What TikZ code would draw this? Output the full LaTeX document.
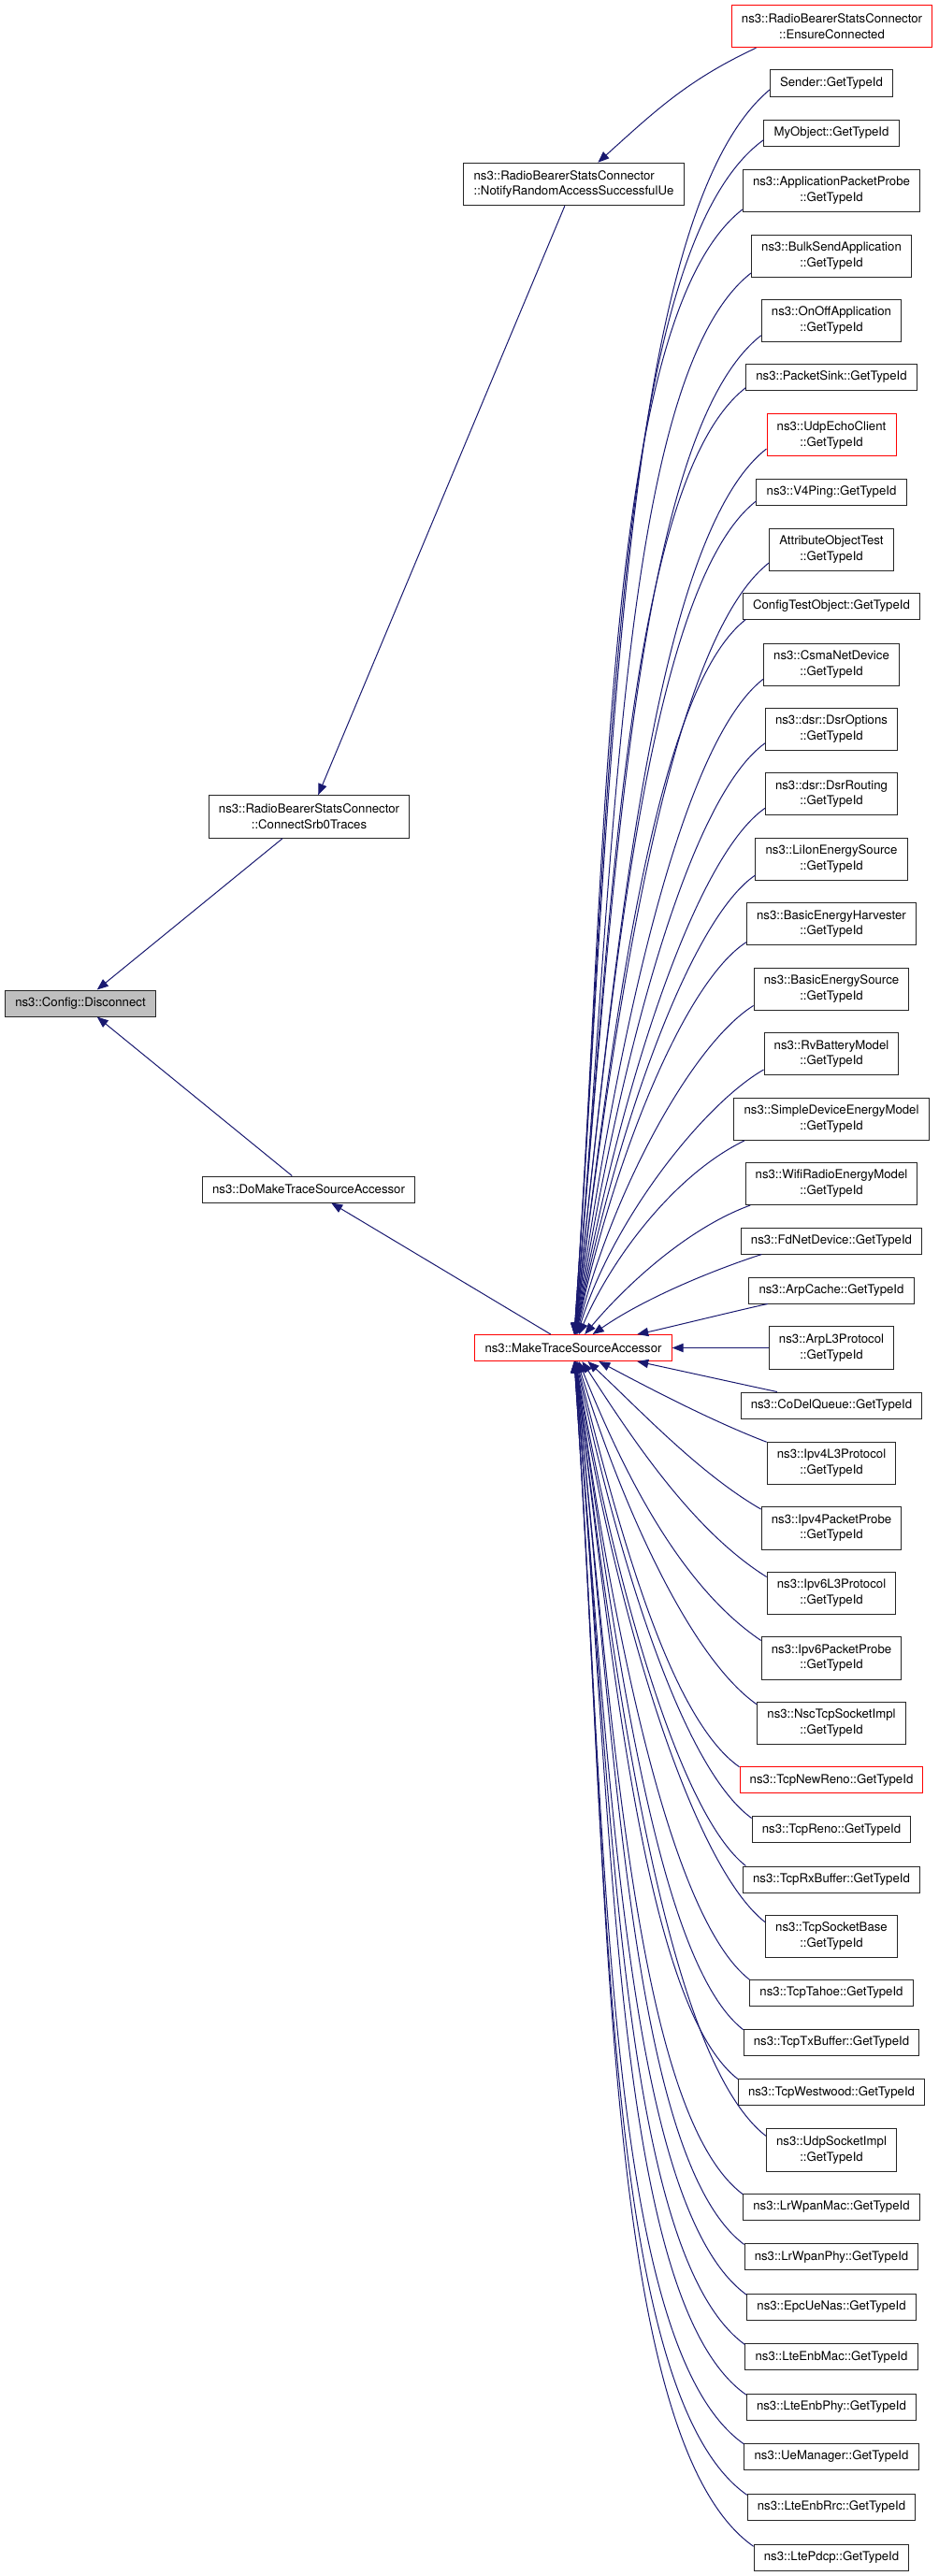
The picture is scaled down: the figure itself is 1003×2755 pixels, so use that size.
\documentclass[tikz,border=0pt]{standalone}
\usepackage{fontspec}
\setmainfont{TeX Gyre Heros}
\usepackage{tikz}
\usetikzlibrary{arrows.meta}
\usepackage{xcolor}
\definecolor{midnight}{RGB}{25,25,112}
\definecolor{grey75}{RGB}{191,191,191}
\tikzset{%
    fn/.style={draw=black!85, fill=white, line width=0.75pt, inner xsep=8pt, inner ysep=1pt,
        minimum height=21pt, align=center, font=\fontsize{9.9pt}{12.5pt}\selectfont},
    fn2/.style={fn, minimum height=34.1pt},
    hot/.style={draw=red},
    call/.style={draw=midnight, line width=0.75pt, ->, >={Triangle[length=9pt,width=7pt]}}
}
\begin{document}
\begin{tikzpicture}[x=0.75pt,y=0.75pt]
\useasboundingbox (0,0) rectangle (1003,-2755);
%-----------------------------------------------
    \node[fn, fill=grey75] (disc) at (86,-1073) {ns3::Config::Disconnect};
    \node[fn2] (srb0) at (330.5,-873.5) {ns3::RadioBearerStatsConnector\\::ConnectSrb0Traces};
    \node[fn2, align=left] (notify) at (613.5,-197) {ns3::RadioBearerStatsConnector\\::NotifyRandomAccessSuccessfulUe};
    \node[fn] (domake) at (330,-1272) {ns3::DoMakeTraceSourceAccessor};
    \node[fn, hot] (mtsa) at (613,-1441.5) {ns3::MakeTraceSourceAccessor};
%-----------------------------------------------
    \node[fn2, hot] (ensure) at (889.5,-28) {ns3::RadioBearerStatsConnector\\::EnsureConnected};
    \node[fn] (sender) at (889,-89) {Sender::GetTypeId};
    \node[fn] (myobj) at (889,-142) {MyObject::GetTypeId};
    \node[fn2] (appprobe) at (889,-203.75) {ns3::ApplicationPacketProbe\\::GetTypeId};
    \node[fn2] (bulksend) at (889,-273.75) {ns3::BulkSendApplication\\::GetTypeId};
    \node[fn2] (onoff) at (889,-342.75) {ns3::OnOffApplication\\::GetTypeId};
    \node[fn] (pktsink) at (889,-403.5) {ns3::PacketSink::GetTypeId};
    \node[fn2, hot] (udpecho) at (889,-465.25) {ns3::UdpEchoClient\\::GetTypeId};
    \node[fn] (vping) at (889,-526) {ns3::V4Ping::GetTypeId};
    \node[fn2] (attrtest) at (889,-587.75) {AttributeObjectTest\\::GetTypeId};
    \node[fn] (cfgtest) at (889,-648) {ConfigTestObject::GetTypeId};
    \node[fn2] (csma) at (889,-710.75) {ns3::CsmaNetDevice\\::GetTypeId};
    \node[fn2] (dsropt) at (889,-779.75) {ns3::dsr::DsrOptions\\::GetTypeId};
    \node[fn2] (dsrrout) at (889,-849.25) {ns3::dsr::DsrRouting\\::GetTypeId};
    \node[fn2] (liion) at (889,-918.75) {ns3::LiIonEnergySource\\::GetTypeId};
    \node[fn2] (harvest) at (889,-988.25) {ns3::BasicEnergyHarvester\\::GetTypeId};
    \node[fn2] (basicsrc) at (889,-1057.75) {ns3::BasicEnergySource\\::GetTypeId};
    \node[fn2] (rvbat) at (889,-1127.25) {ns3::RvBatteryModel\\::GetTypeId};
    \node[fn2] (simpledev) at (889,-1196.75) {ns3::SimpleDeviceEnergyModel\\::GetTypeId};
    \node[fn2] (wifiradio) at (889,-1265.75) {ns3::WifiRadioEnergyModel\\::GetTypeId};
    \node[fn] (fdnet) at (889,-1327) {ns3::FdNetDevice::GetTypeId};
    \node[fn] (arpcache) at (889,-1380) {ns3::ArpCache::GetTypeId};
    \node[fn2] (arpl3) at (889,-1441.5) {ns3::ArpL3Protocol\\::GetTypeId};
    \node[fn] (codel) at (889,-1503) {ns3::CoDelQueue::GetTypeId};
    \node[fn2] (ipv4l3) at (889,-1564.75) {ns3::Ipv4L3Protocol\\::GetTypeId};
    \node[fn2] (ipv4probe) at (889,-1634.25) {ns3::Ipv4PacketProbe\\::GetTypeId};
    \node[fn2] (ipv6l3) at (889,-1703.75) {ns3::Ipv6L3Protocol\\::GetTypeId};
    \node[fn2] (ipv6probe) at (889,-1773.25) {ns3::Ipv6PacketProbe\\::GetTypeId};
    \node[fn2] (nsctcp) at (889,-1842.75) {ns3::NscTcpSocketImpl\\::GetTypeId};
    \node[fn, hot] (newreno) at (889,-1903.5) {ns3::TcpNewReno::GetTypeId};
    \node[fn] (tcpreno) at (889,-1956.5) {ns3::TcpReno::GetTypeId};
    \node[fn] (tcprx) at (889,-2010) {ns3::TcpRxBuffer::GetTypeId};
    \node[fn2] (tcpsock) at (889,-2070.75) {ns3::TcpSocketBase\\::GetTypeId};
    \node[fn] (tahoe) at (889,-2131) {ns3::TcpTahoe::GetTypeId};
    \node[fn] (tcptx) at (889,-2184) {ns3::TcpTxBuffer::GetTypeId};
    \node[fn] (westwood) at (889,-2237.5) {ns3::TcpWestwood::GetTypeId};
    \node[fn2] (udpsock) at (889,-2299.25) {ns3::UdpSocketImpl\\::GetTypeId};
    \node[fn] (wpanmac) at (889,-2360) {ns3::LrWpanMac::GetTypeId};
    \node[fn] (wpanphy) at (889,-2413.5) {ns3::LrWpanPhy::GetTypeId};
    \node[fn] (uenas) at (889,-2467) {ns3::EpcUeNas::GetTypeId};
    \node[fn] (enbmac) at (889,-2520.5) {ns3::LteEnbMac::GetTypeId};
    \node[fn] (enbphy) at (889,-2574) {ns3::LteEnbPhy::GetTypeId};
    \node[fn] (uemgr) at (889,-2627) {ns3::UeManager::GetTypeId};
    \node[fn] (enbrrc) at (889,-2681) {ns3::LteEnbRrc::GetTypeId};
    \node[fn] (pdcp) at (889,-2735) {ns3::LtePdcp::GetTypeId};
%-----------------------------------------------
    \draw[call] (ensure.196) to[out=205,in=42] (notify);
    \draw[call] (notify) -- (srb0);
    \draw[call] (srb0) -- (disc);
    \draw[call] (domake) -- (disc);
    \draw[call] (mtsa) -- (domake);
    \draw[call] (arpl3) -- (mtsa);
%-----------------------------------------------
    \foreach \src/\sa/\out/\in/\ol/\il in {%
        sender/186/220/86/0.4/1.1, myobj/186/216/86/0.4/1.1,
        appprobe/192/218/86/0.4/1.1, bulksend/192/218/85/0.4/1.1,
        onoff/192/218/85/0.4/1.1, pktsink/187/218/85/0.4/1.1,
        udpecho/192/218/84/0.4/1.1, vping/187/218/84/0.4/1.1,
        attrtest/192/218/83/0.4/1.1, cfgtest/189/218/83/0.4/1.1,
        csma/192/218/82/0.4/1.1, dsropt/192/216/81/0.4/1.1,
        dsrrout/192/215/80/0.4/1.1, liion/192/214/79/0.4/1.1,
        harvest/192/213/78/0.45/1.05, basicsrc/192/212/76/0.5/1.0,
        rvbat/193/210/73/0.55/0.95, simpledev/194/206/67/0.8/0.8,
        wifiradio/195/200/50/0.8/0.8, fdnet/191/198/35/0.8/0.8,
        arpcache/192/192/12/0.5/0.5,
        codel/166/168/-12/0.5/0.5, ipv4l3/162/159/-28/0.8/0.8,
        ipv4probe/165/150/-43/0.8/0.8, ipv6l3/166/148/-57/0.8/0.8,
        ipv6probe/166/146/-68/0.8/0.8, nsctcp/166/145/-73/0.55/0.95,
        newreno/172/145/-76/0.5/1.0, tcpreno/172/144/-78/0.45/1.05,
        tcprx/171/142/-80/0.4/1.1, tcpsock/168/142/-81/0.4/1.1,
        tahoe/171/142/-82/0.4/1.1, tcptx/172/142/-82/0.4/1.1,
        westwood/172/142/-83/0.4/1.1, udpsock/168/142/-83/0.4/1.1,
        wpanmac/172/143/-84/0.4/1.1, wpanphy/172/143/-84/0.4/1.1,
        uenas/172/144/-85/0.4/1.1, enbmac/172/144/-85/0.4/1.1,
        enbphy/172/145/-85/0.4/1.1, uemgr/172/145/-86/0.4/1.1,
        enbrrc/172/145/-86/0.4/1.1, pdcp/172/145/-86/0.4/1.1}
    \draw[call] (\src.\sa) to[out=\out,in=\in,out looseness=\ol,in looseness=\il] (mtsa);
\end{tikzpicture}
\end{document}
